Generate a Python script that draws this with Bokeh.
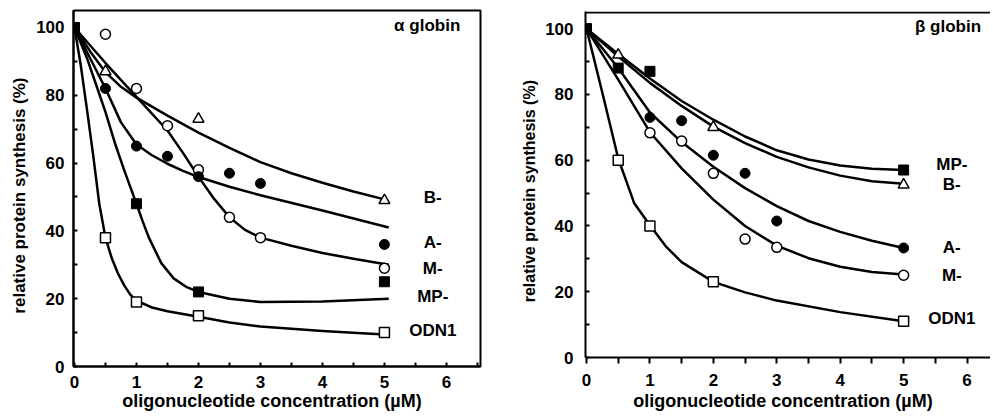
from bokeh.plotting import figure
from bokeh.layouts import row
from bokeh.models import Span, Range1d, FixedTicker
from bokeh.core.properties import value
from bokeh.embed import file_html
from bokeh.resources import INLINE

FONT = "Liberation Sans"

# ---------------- alpha globin (left panel) ----------------
# measured points
a_odn1_x = [0.5, 1, 2, 5]
a_odn1_y = [38, 19, 15, 10]
a_mp_x = [0, 1, 2, 5]
a_mp_y = [100, 48, 22, 25]
a_m_x = [0.5, 1, 1.5, 2, 2.5, 3, 5]
a_m_y = [98, 82, 71, 58, 44, 38, 29]
a_a_x = [0.5, 1, 1.5, 2, 2.5, 3, 5]
a_a_y = [82, 65, 62, 56, 57, 54, 36]
a_b_x = [0.5, 2, 5]
a_b_y = [87, 73, 49]

# fitted curves
a_odn1_fit_x = [0, 0.1, 0.2, 0.3, 0.4, 0.5, 0.6, 0.7, 0.8, 0.9, 1, 1.25, 1.5, 2, 2.5, 3, 4, 5.07]
a_odn1_fit_y = [100, 89, 76, 62.5, 48, 38, 32, 27.5, 24, 21.2, 19.4, 17.4, 16.3, 14.7, 13, 11.8, 10.5, 9.4]
a_mp_fit_x = [0, 0.2, 0.37, 0.5, 0.65, 0.8, 0.9, 1, 1.1, 1.2, 1.4, 1.6, 1.8, 2, 2.5, 3, 4, 5.07]
a_mp_fit_y = [100, 91, 82, 75, 66, 58, 53, 48, 42.8, 38, 30.5, 26, 23.5, 22, 20, 19, 19.2, 20]
a_a_fit_x = [0, 0.25, 0.5, 0.75, 1, 1.25, 1.5, 1.75, 2, 2.5, 3, 4, 5.07]
a_a_fit_y = [100, 91, 82, 72, 65.5, 62.3, 59.8, 57.7, 55.9, 53, 50.5, 46, 41]
a_m_fit_x = [0, 0.5, 1, 1.5, 1.75, 2, 2.25, 2.5, 2.75, 3, 3.5, 4, 4.5, 5.07]
a_m_fit_y = [100, 89.5, 79.5, 69.6, 63, 56, 49.5, 44, 40.3, 38, 35.6, 33.5, 31.8, 30]
a_b_fit_x = [0, 0.25, 0.5, 0.75, 1, 1.5, 2, 2.5, 3, 3.5, 4, 4.5, 5]
a_b_fit_y = [100, 93, 86.8, 82.5, 79.3, 74, 69, 64.5, 60.3, 57, 54.2, 51.6, 49.3]

a_labels = ["B-", "A-", "M-", "MP-", "ODN1"]
a_label_x = [5.78, 5.78, 5.78, 5.78, 5.78]
a_label_y = [49.7, 36.6, 28.8, 20.5, 10.6]
a_title = "α globin"
a_title_xy = (5.69, 100.5)

# ---------------- beta globin (right panel) ----------------
b_odn1_x = [0.5, 1, 2, 5]
b_odn1_y = [60, 40, 23, 11]
b_mp_x = [0, 0.5, 1, 5]
b_mp_y = [100, 88, 87, 57]
b_b_x = [0.5, 2, 5]
b_b_y = [92, 70, 52.5]
b_a_x = [1, 1.5, 2, 2.5, 3, 5]
b_a_y = [73, 72, 61.5, 56, 41.5, 33.3]
b_m_x = [1, 1.5, 2, 2.5, 3, 5]
b_m_y = [68.3, 65.8, 56, 36, 33.5, 25]

b_fit_x = [0, 0.5, 1, 1.5, 2, 2.5, 3, 3.5, 4, 4.5, 5]
b_odn1_fit_x = [0, 0.25, 0.5, 0.75, 1, 1.25, 1.5, 2, 2.5, 3, 4, 5]
b_odn1_fit_y = [100, 80.5, 60.5, 47, 40.2, 33.8, 29, 23, 19.8, 17.3, 13.8, 11]
b_m_fit_y = [100, 84.5, 68.5, 57.5, 48, 40, 34, 30.2, 27.6, 26, 25.2]
b_a_fit_y = [100, 88, 74.5, 65.5, 58, 51.5, 46, 41.5, 38.2, 35.5, 33.3]
b_b_fit_y = [100, 91.5, 83.5, 76.5, 70.2, 65.2, 61, 57.8, 55.3, 53.6, 52.8]
b_mp_fit_y = [100, 92.3, 84.8, 78, 72.3, 67.2, 63, 60.2, 58.4, 57.4, 57]

b_labels = ["MP-", "B-", "A-", "M-", "ODN1"]
b_label_x = [5.76, 5.76, 5.76, 5.76, 5.76]
b_label_y = [58.6, 52.5, 33.5, 25, 11.8]
b_title = "β globin"
b_title_xy = (5.7, 100.5)

x_major = [0, 1, 2, 3, 4, 5, 6]
x_minor = [0.5, 1.5, 2.5, 3.5, 4.5, 5.5, 6.5]
y_major = [0, 20, 40, 60, 80, 100]
y_minor = [10, 30, 50, 70, 90]

xlabel = "oligonucleotide  concentration  (\u00b5M)"
ylabel = "relative  protein  synthesis  (%)"


def style(p, x_in, x_out, ystand, ylab_size, xstand, xlab_stand):
    p.xgrid.visible = False
    p.ygrid.visible = False
    for ax in (p.xaxis[0], p.yaxis[0]):
        ax.axis_line_width = 2
        ax.axis_line_color = "black"
        ax.major_tick_line_width = 2
        ax.minor_tick_line_width = 2
        ax.major_label_text_font = FONT
        ax.major_label_text_font_style = "bold"
        ax.major_label_text_font_size = "17px"
        ax.major_label_text_color = "black"
        ax.axis_label_text_font = FONT
        ax.axis_label_text_font_style = "bold"
        ax.axis_label_text_color = "black"
    xa = p.xaxis[0]
    xa.ticker = FixedTicker(ticks=x_major, minor_ticks=x_minor)
    xa.major_tick_in = x_in
    xa.major_tick_out = x_out
    xa.minor_tick_in = x_in
    xa.minor_tick_out = x_out
    xa.major_label_standoff = xstand
    xa.axis_label = xlabel
    xa.axis_label_text_font_size = "18px"
    xa.axis_label_standoff = xlab_stand
    ya = p.yaxis[0]
    ya.ticker = FixedTicker(ticks=y_major, minor_ticks=y_minor)
    ya.major_tick_in = 4
    ya.major_tick_out = 0
    ya.minor_tick_in = 4
    ya.minor_tick_out = 0
    ya.major_label_standoff = ystand
    ya.axis_label = ylabel
    ya.axis_label_text_font_size = ylab_size
    ya.axis_label_standoff = 4


def draw(p, curves, open_sq, filled_sq, open_c, filled_c, tri, labels, lx, ly, title, txy):
    for cx, cy in curves:
        p.line(cx, cy, line_color="black", line_width=2.5, line_join="round")
    p.scatter(open_sq[0], open_sq[1], marker="square", size=10, fill_color="white",
              line_color="black", line_width=1.5)
    p.scatter(open_c[0], open_c[1], marker="circle", size=10, fill_color="white",
              line_color="black", line_width=1.5)
    p.scatter(tri[0], tri[1], marker="triangle", size=11, fill_color="white",
              line_color="black", line_width=1.5)
    p.scatter(filled_c[0], filled_c[1], marker="circle", size=10, fill_color="black",
              line_color="black")
    p.scatter(filled_sq[0], filled_sq[1], marker="square", size=10, fill_color="black",
              line_color="black")
    p.text(lx, ly, text=labels, text_font=value(FONT), text_font_style="bold",
           text_font_size="17px", text_align="center", text_baseline="middle",
           text_color="black")
    p.text([txy[0]], [txy[1]], text=[title], text_font=value(FONT), text_font_style="bold",
           text_font_size="17px", text_align="center", text_baseline="middle",
           text_color="black")


p1 = figure(width=500, height=415, output_backend="svg", toolbar_location=None,
            x_range=Range1d(-0.016, 6.55), y_range=Range1d(0, 105),
            min_border_left=73, min_border_right=20, min_border_top=10, min_border_bottom=49,
            frame_align=False)
p1.outline_line_color = "black"
p1.outline_line_width = 2
p1.outline_line_alpha = 1
style(p1, x_in=4, x_out=0, ystand=9, ylab_size="17px", xstand=9, xlab_stand=0)
draw(p1,
     [(a_b_fit_x, a_b_fit_y), (a_a_fit_x, a_a_fit_y), (a_m_fit_x, a_m_fit_y),
      (a_mp_fit_x, a_mp_fit_y), (a_odn1_fit_x, a_odn1_fit_y)],
     (a_odn1_x, a_odn1_y), (a_mp_x, a_mp_y), (a_m_x, a_m_y), (a_a_x, a_a_y), (a_b_x, a_b_y),
     a_labels, a_label_x, a_label_y, a_title, a_title_xy)

p2 = figure(width=490, height=415, output_backend="svg", toolbar_location=None,
            x_range=Range1d(-0.016, 6.37), y_range=Range1d(0, 105.2),
            min_border_left=85, min_border_right=0, min_border_top=11, min_border_bottom=58,
            frame_align=False)
p2.outline_line_color = None
style(p2, x_in=0, x_out=6, ystand=12, ylab_size="16px", xstand=10, xlab_stand=2)
p2.add_layout(Span(location=104.9, dimension="width", line_color="black", line_width=2))
draw(p2,
     [(b_fit_x, b_mp_fit_y), (b_fit_x, b_b_fit_y), (b_fit_x, b_a_fit_y),
      (b_fit_x, b_m_fit_y), (b_odn1_fit_x, b_odn1_fit_y)],
     (b_odn1_x, b_odn1_y), (b_mp_x, b_mp_y), (b_m_x, b_m_y), (b_a_x, b_a_y), (b_b_x, b_b_y),
     b_labels, b_label_x, b_label_y, b_title, b_title_xy)

layout = row(p1, p2)
open("out.html", "w").write(file_html(layout, INLINE))
